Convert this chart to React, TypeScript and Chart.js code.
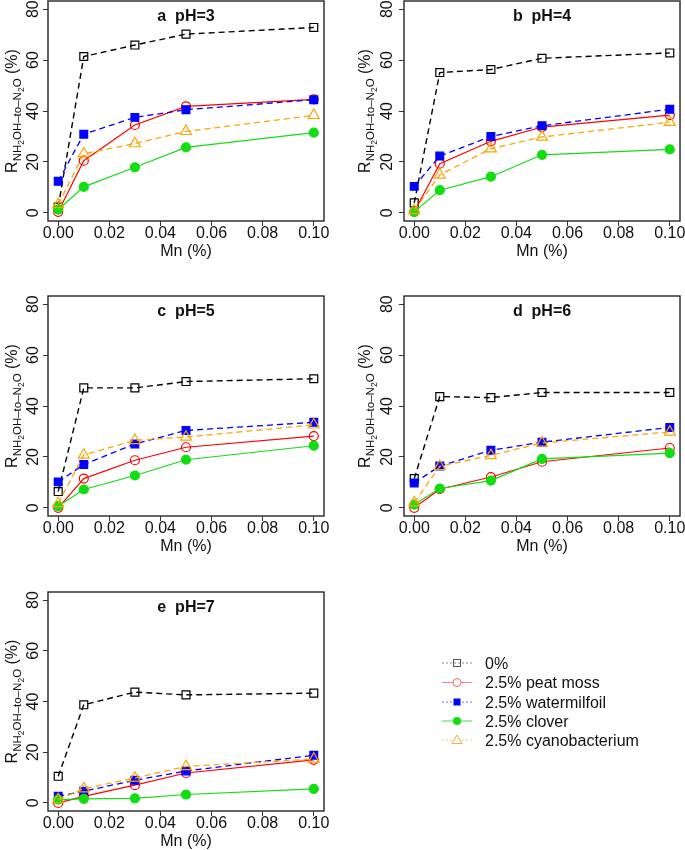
import React, { useEffect, useRef } from 'react';
import { Chart, registerables } from 'chart.js';

Chart.register(...registerables);

// ---------------- data ----------------
const MN = [0, 0.01, 0.03, 0.05, 0.1];
const X_TICKS = [0, 0.02, 0.04, 0.06, 0.08, 0.1];
const Y_TICKS = [0, 20, 40, 60, 80];
const SERIES_NAMES = ['0%', '2.5% peat moss', '2.5% watermilfoil', '2.5% clover', '2.5% cyanobacterium'];
const PANEL_TITLES = ['a  pH=3', 'b  pH=4', 'c  pH=5', 'd  pH=6', 'e  pH=7'];

// pH 3
const PH3_CONTROL = [2.3, 61.4, 65.9, 70.2, 72.8];
const PH3_PEAT = [0.4, 20.5, 34.5, 41.8, 44.6];
const PH3_WATER = [12.4, 30.9, 37.5, 40.5, 44.4];
const PH3_CLOVER = [1.3, 10.2, 17.9, 25.7, 31.5];
const PH3_CYANO = [3.3, 23.2, 27.2, 32.0, 38.3];
// pH 4
const PH4_CONTROL = [3.9, 55.1, 56.3, 60.7, 62.8];
const PH4_PEAT = [0.4, 19.3, 28.1, 33.7, 38.4];
const PH4_WATER = [10.4, 22.3, 30.0, 34.2, 40.7];
const PH4_CLOVER = [0.4, 8.9, 14.2, 22.8, 24.9];
const PH4_CYANO = [0.9, 14.9, 25.2, 29.8, 35.6];
// pH 5
const PH5_CONTROL = [6.4, 47.1, 47.1, 49.6, 50.7];
const PH5_PEAT = [0.0, 11.5, 18.7, 23.8, 28.2];
const PH5_WATER = [10.2, 17.0, 25.1, 30.4, 33.6];
const PH5_CLOVER = [0.7, 7.2, 12.7, 18.9, 24.4];
const PH5_CYANO = [1.7, 20.8, 26.5, 27.8, 32.6];
// pH 6
const PH6_CONTROL = [11.5, 43.7, 43.3, 45.3, 45.3];
const PH6_PEAT = [0.0, 7.3, 12.1, 18.1, 23.5];
const PH6_WATER = [9.8, 16.4, 22.6, 25.8, 31.6];
const PH6_CLOVER = [1.3, 7.6, 10.7, 19.2, 21.5];
const PH6_CYANO = [2.0, 16.3, 20.6, 25.5, 29.8];
// pH 7
const PH7_CONTROL = [10.5, 38.7, 43.7, 42.6, 43.3];
const PH7_PEAT = [0.0, 2.6, 7.0, 11.8, 17.0];
const PH7_WATER = [2.6, 4.6, 8.9, 12.6, 18.8];
const PH7_CLOVER = [1.3, 1.6, 1.8, 3.3, 5.5];
const PH7_CYANO = [1.3, 5.6, 9.8, 14.4, 17.3];

const PANEL_DATA = [
  [PH3_CONTROL, PH3_PEAT, PH3_WATER, PH3_CLOVER, PH3_CYANO],
  [PH4_CONTROL, PH4_PEAT, PH4_WATER, PH4_CLOVER, PH4_CYANO],
  [PH5_CONTROL, PH5_PEAT, PH5_WATER, PH5_CLOVER, PH5_CYANO],
  [PH6_CONTROL, PH6_PEAT, PH6_WATER, PH6_CLOVER, PH6_CYANO],
  [PH7_CONTROL, PH7_PEAT, PH7_WATER, PH7_CLOVER, PH7_CYANO],
];

// ---------------- styles / layout ----------------
const FONT = '"Liberation Sans", Arial, Helvetica, sans-serif';

const STYLES = [
  { color: '#000000', dash: [6, 4], width: 1.4, pointStyle: 'rect', filled: false, r: 5.6 },
  { color: '#FF0000', dash: [], width: 1.2, pointStyle: 'circle', filled: false, r: 4.5 },
  { color: '#0000FF', dash: [6, 4], width: 1.3, pointStyle: 'rect', filled: true, r: 5.5 },
  { color: '#11DD11', dash: [], width: 1.2, pointStyle: 'circle', filled: true, r: 4.5 },
  { color: '#FFA500', dash: [6, 4], width: 1.3, pointStyle: 'triangle', filled: false, r: 6.3 },
];

const LEGEND_STYLES = [
  { line: '#8a8a8a', dash: '2,2', marker: '#555555' },
  { line: '#ff8080', dash: '', marker: '#ff6060' },
  { line: '#7070ff', dash: '2,2', marker: '#0000ff' },
  { line: '#40e040', dash: '', marker: '#11dd11' },
  { line: '#ffcc80', dash: '2,2', marker: '#f0b040' },
];

const PANELS = [
  { left: 0, top: 0, w: 342, h: 290, boxL: 48, boxT: 1, boxR: 324, boxB: 221, lab: 10, ttl: 31 },
  { left: 342, top: 0, w: 343, h: 290, boxL: 62, boxT: 1, boxR: 338, boxB: 221, lab: 12, ttl: 34 },
  { left: 0, top: 290, w: 342, h: 290, boxL: 48, boxT: 6, boxR: 324, boxB: 226, lab: 10, ttl: 31 },
  { left: 342, top: 290, w: 343, h: 290, boxL: 62, boxT: 6, boxR: 338, boxB: 226, lab: 12, ttl: 34 },
  { left: 0, top: 580, w: 342, h: 270, boxL: 48, boxT: 12, boxR: 324, boxB: 231, lab: 10, ttl: 31 },
];

function decorPlugin(title: string, lab: number, ttl: number) {
  return {
    id: 'decor',
    afterDraw(chart: any) {
      const { ctx, chartArea: a, scales } = chart;
      const xs = scales.x;
      const ys = scales.y;
      ctx.save();
      ctx.strokeStyle = '#333333';
      ctx.lineWidth = 1.5;
      ctx.setLineDash([]);
      ctx.strokeRect(a.left, a.top, a.right - a.left, a.bottom - a.top);

      ctx.fillStyle = '#111111';
      ctx.font = `16px ${FONT}`;
      ctx.textAlign = 'center';
      ctx.textBaseline = 'alphabetic';
      for (const v of X_TICKS) {
        ctx.fillText(v.toFixed(2), xs.getPixelForValue(v), a.bottom + 17);
      }
      ctx.fillText('Mn (%)', (a.left + a.right) / 2, a.bottom + 35);

      for (const v of Y_TICKS) {
        ctx.save();
        ctx.translate(a.left - lab, ys.getPixelForValue(v));
        ctx.rotate(-Math.PI / 2);
        ctx.fillText(String(v), 0, 0);
        ctx.restore();
      }

      ctx.font = `bold 16px ${FONT}`;
      ctx.fillText(title, (a.left + a.right) / 2, a.top + 20);

      // y-axis title with subscripts
      const parts = [
        { t: 'R', s: 16, dy: 0 },
        { t: 'NH', s: 11.5, dy: 4 },
        { t: '2', s: 8.5, dy: 6.5 },
        { t: 'OH\u2013to\u2013N', s: 11.5, dy: 4 },
        { t: '2', s: 8.5, dy: 6.5 },
        { t: 'O', s: 11.5, dy: 4 },
        { t: ' (%)', s: 16, dy: 0 },
      ];
      let total = 0;
      const widths: number[] = [];
      for (const p of parts) {
        ctx.font = `${p.s}px ${FONT}`;
        const w = ctx.measureText(p.t).width;
        widths.push(w);
        total += w;
      }
      ctx.save();
      ctx.translate(a.left - ttl, ys.getPixelForValue(40));
      ctx.rotate(-Math.PI / 2);
      ctx.textAlign = 'left';
      let x = -total / 2;
      parts.forEach((p, i) => {
        ctx.font = `${p.s}px ${FONT}`;
        ctx.fillText(p.t, x, p.dy);
        x += widths[i];
      });
      ctx.restore();
      ctx.restore();
    },
  };
}

function Panel({ idx }: { idx: number }) {
  const ref = useRef<HTMLCanvasElement>(null);
  const P = PANELS[idx];
  useEffect(() => {
    if (!ref.current) return;
    const datasets = PANEL_DATA[idx].map((vals, i) => {
      const st = STYLES[i];
      return {
        label: SERIES_NAMES[i],
        data: MN.map((m, j) => ({ x: m, y: vals[j] })),
        borderColor: st.color,
        backgroundColor: st.filled ? st.color : 'rgba(0,0,0,0)',
        borderWidth: st.width,
        borderDash: st.dash,
        pointStyle: st.pointStyle,
        pointRadius: st.r,
        pointBorderWidth: 1.2,
        pointBorderColor: st.color,
        pointBackgroundColor: st.filled ? st.color : 'rgba(0,0,0,0)',
        tension: 0,
        fill: false,
        order: 4 - i,
        clip: false,
      };
    });
    const tickGrid = {
      drawOnChartArea: false,
      drawTicks: true,
      tickLength: 5,
      color: '#333333',
      tickColor: '#333333',
      lineWidth: 1,
    };
    const chart = new Chart(ref.current, {
      type: 'line',
      data: { datasets },
      options: {
        animation: false,
        responsive: false,
        maintainAspectRatio: false,
        events: [],
        layout: {
          autoPadding: false,
          padding: { top: P.boxT, right: P.w - P.boxR, left: 0, bottom: 0 },
        },
        plugins: { legend: { display: false }, tooltip: { enabled: false } },
        scales: {
          x: {
            type: 'linear',
            min: -0.004,
            max: 0.104,
            afterBuildTicks: (s: any) => {
              s.ticks = X_TICKS.map((value) => ({ value }));
            },
            afterFit: (s: any) => {
              s.height = P.h - P.boxB;
            },
            ticks: { display: false },
            grid: tickGrid,
            border: { display: false },
          },
          y: {
            type: 'linear',
            min: -3.2,
            max: 83.2,
            afterBuildTicks: (s: any) => {
              s.ticks = Y_TICKS.map((value) => ({ value }));
            },
            afterFit: (s: any) => {
              s.width = P.boxL;
            },
            ticks: { display: false },
            grid: tickGrid,
            border: { display: false },
          },
        },
      } as any,
      plugins: [decorPlugin(PANEL_TITLES[idx], P.lab, P.ttl)],
    });
    return () => chart.destroy();
  }, [idx]);
  return (
    <canvas
      ref={ref}
      width={P.w}
      height={P.h}
      style={{ position: 'absolute', left: P.left, top: P.top, width: P.w, height: P.h, display: 'block' }}
    />
  );
}

function Legend() {
  const x0 = 442;
  const x1 = 472;
  const mx = 457;
  const ys = [663, 682.5, 702, 721, 740];
  return (
    <svg
      width={685}
      height={850}
      style={{ position: 'absolute', left: 0, top: 0, pointerEvents: 'none' }}
    >
      {SERIES_NAMES.map((name, i) => {
        const L = LEGEND_STYLES[i];
        const y = ys[i];
        let marker: any = null;
        if (i === 0) marker = <rect x={mx - 3.5} y={y - 3.5} width={7} height={7} fill="none" stroke={L.marker} strokeWidth={1} />;
        if (i === 1) marker = <circle cx={mx} cy={y} r={4} fill="white" stroke={L.marker} strokeWidth={1} />;
        if (i === 2) marker = <rect x={mx - 3.5} y={y - 3.5} width={7} height={7} fill={L.marker} />;
        if (i === 3) marker = <circle cx={mx} cy={y} r={4} fill={L.marker} />;
        if (i === 4) marker = <polygon points={`${mx},${y - 5} ${mx - 5},${y + 3.5} ${mx + 5},${y + 3.5}`} fill="white" stroke={L.marker} strokeWidth={1} />;
        return (
          <g key={name}>
            <line x1={x0} y1={y} x2={x1} y2={y} stroke={L.line} strokeWidth={1} strokeDasharray={L.dash || undefined} />
            {marker}
            <text x={485} y={y + 5.5} fontFamily={FONT} fontSize={16} fill="#111">
              {name}
            </text>
          </g>
        );
      })}
    </svg>
  );
}

export default function App() {
  return (
    <div
      style={{
        position: 'fixed',
        left: 0,
        top: 0,
        width: 685,
        height: 850,
        overflow: 'hidden',
        background: '#ffffff',
      }}
    >
      {PANELS.map((_, i) => (
        <Panel key={i} idx={i} />
      ))}
      <Legend />
    </div>
  );
}
